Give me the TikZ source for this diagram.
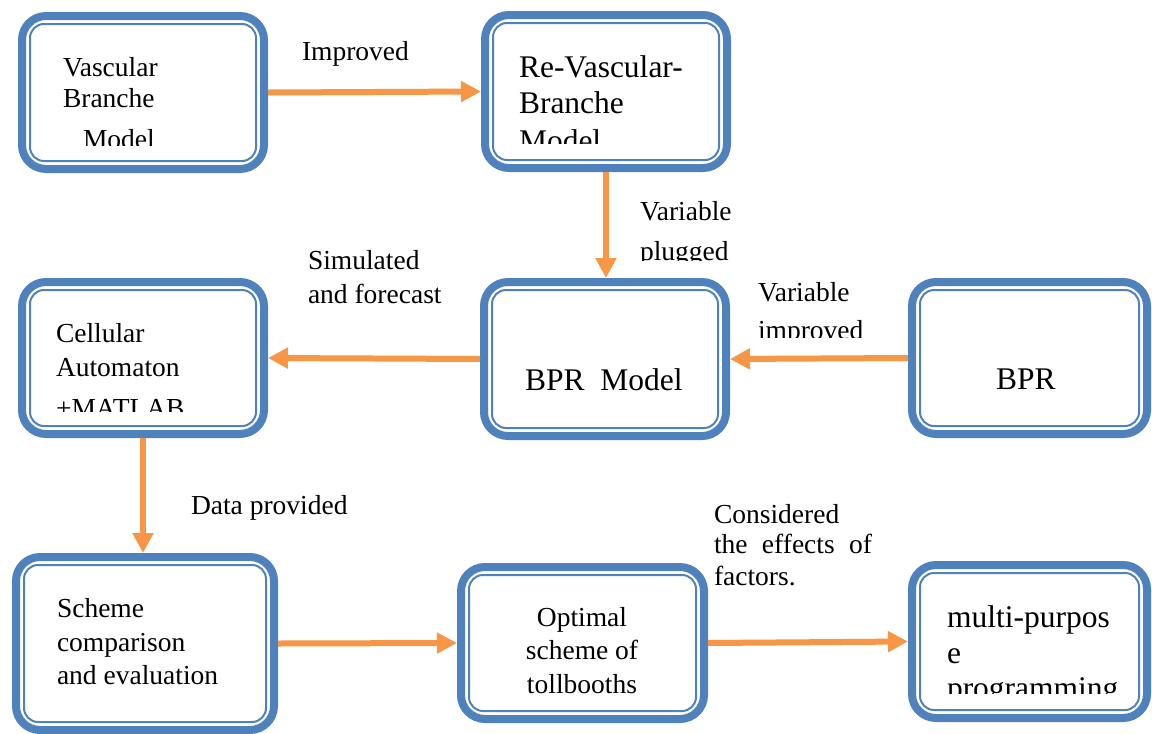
\documentclass[tikz,border=0pt]{standalone}
\usepackage{fontspec}
\setmainfont{Liberation Serif}
\usetikzlibrary{arrows.meta}
\definecolor{boxblue}{RGB}{79,129,189}
\definecolor{arrorange}{RGB}{247,150,70}
\newcommand{\txtsmall}{\fontsize{27.5}{33}\selectfont}
\newcommand{\txtlarge}{\fontsize{31.5}{37}\selectfont}
\begin{document}
\begin{tikzpicture}[x=1pt,y=-1pt,
  box/.style={draw=boxblue, line width=8pt, rounded corners=24pt, inner sep=0pt},
  innerline/.style={draw=boxblue, line width=2pt, rounded corners=14pt},
  arr/.style={draw=arrorange, line width=6pt, -{Triangle[length=20pt,width=20pt]}},
  txt/.style={anchor=base west, inner sep=0pt, outer sep=0pt, font=\txtsmall},
  ctxt/.style={anchor=base, inner sep=0pt, outer sep=0pt, font=\txtsmall},
  ltxt/.style={anchor=base west, inner sep=0pt, outer sep=0pt, font=\txtlarge}]
\fill[white] (0,0) rectangle (1152,734);
\useasboundingbox (0,0) rectangle (1152,734);

% boxes
\node[box, minimum width=242pt, minimum height=153pt] (b1) at (143,92.5) {};
\node[box, minimum width=242pt, minimum height=153pt] (b2) at (606,91.5) {};
\node[box, minimum width=242pt, minimum height=154pt] (b3) at (605,359) {};
\node[box, minimum width=242pt, minimum height=152pt] (b4) at (143,358) {};
\node[box, minimum width=235pt, minimum height=152pt] (b5) at (1029.5,358) {};
\node[box, minimum width=258pt, minimum height=173pt] (b6) at (145,643.5) {};
\node[box, minimum width=243pt, minimum height=152pt] (b7) at (582.5,643) {};
\node[box, minimum width=235pt, minimum height=153pt] (b8) at (1029.5,641.5) {};
\foreach \b in {b1,b2,b3,b4,b5,b6,b7,b8}
  \draw[innerline] ([shift={(12pt,-12pt)}]\b.north west) rectangle ([shift={(-12pt,12pt)}]\b.south east);

% connectors
\draw[arr] (b1.east) -- (b2.west);
\draw[arr] (b2.south) -- (b2.south |- b3.north);
\draw[arr] (b5.west) -- (b3.east);
\draw[arr] (b3.west) -- (b4.east);
\draw[arr] (b4.south) -- (b4.south |- b6.north);
\draw[arr] (b6.east) -- (b7.west);
\draw[arr] (b7.east) -- (b8.west);

% box texts
\node[txt] (t1a) at (63,76) {Vascular};
\node[txt] (t1b) at (63,107) {Branche};
\begin{scope}
  \clip (40,120) rectangle (250,145);
  \node[txt] (t1c) at (83,148) {Model};
\end{scope}

\node[ltxt] (t2a) at (519,77) {Re-Vascular-};
\node[ltxt] (t2b) at (519,113) {Branche};
\begin{scope}
  \clip (500,120) rectangle (720,143);
  \node[ltxt] (t2c) at (519,151) {Model};
\end{scope}

\node[ltxt] (t3) at (525,390) {BPR~~Model};

\node[txt] (t4a) at (56,342) {Cellular};
\node[txt] (t4b) at (56,376) {Automaton};
\begin{scope}
  \clip (40,385) rectangle (250,411);
  \node[txt] (t4c) at (56,417) {+MATLAB};
\end{scope}

\node[ltxt] (t5) at (996,389) {BPR};

\node[txt] (t6a) at (57,617) {Scheme};
\node[txt] (t6b) at (57,651) {comparison};
\node[txt] (t6c) at (57,684) {and evaluation};

\node[ctxt] (t7a) at (582,626) {Optimal};
\node[ctxt] (t7b) at (582,659) {scheme of};
\node[ctxt] (t7c) at (582,693) {tollbooths};

\node[ltxt] (t8a) at (947,627) {multi-purpos};
\node[ltxt] (t8b) at (947,663) {e};
\begin{scope}
  \clip (930,670) rectangle (1140,693);
  \node[ltxt] (t8c) at (947,698) {programming};
\end{scope}

% connector labels
\node[txt] (l1) at (302,60) {Improved};
\node[txt] (l2a) at (640,220) {Variable};
\begin{scope}
  \clip (620,228) rectangle (800,260);
  \node[txt] (l2b) at (640,260) {plugged};
\end{scope}
\node[txt] (l3a) at (308,269) {Simulated};
\node[txt] (l3b) at (308,303) {and forecast};
\node[txt] (l4a) at (758,301) {Variable};
\begin{scope}
  \clip (740,308) rectangle (900,337);
  \node[txt] (l4b) at (758,339) {improved};
\end{scope}
\node[txt] (l5) at (191,514) {Data provided};
\node[txt] (l6a) at (714,523) {Considered};
\node[txt] (l6b) at (714,553) {\makebox[158pt][s]{the effects of}};
\node[txt] (l6c) at (714,585) {factors.};
\end{tikzpicture}
\end{document}
